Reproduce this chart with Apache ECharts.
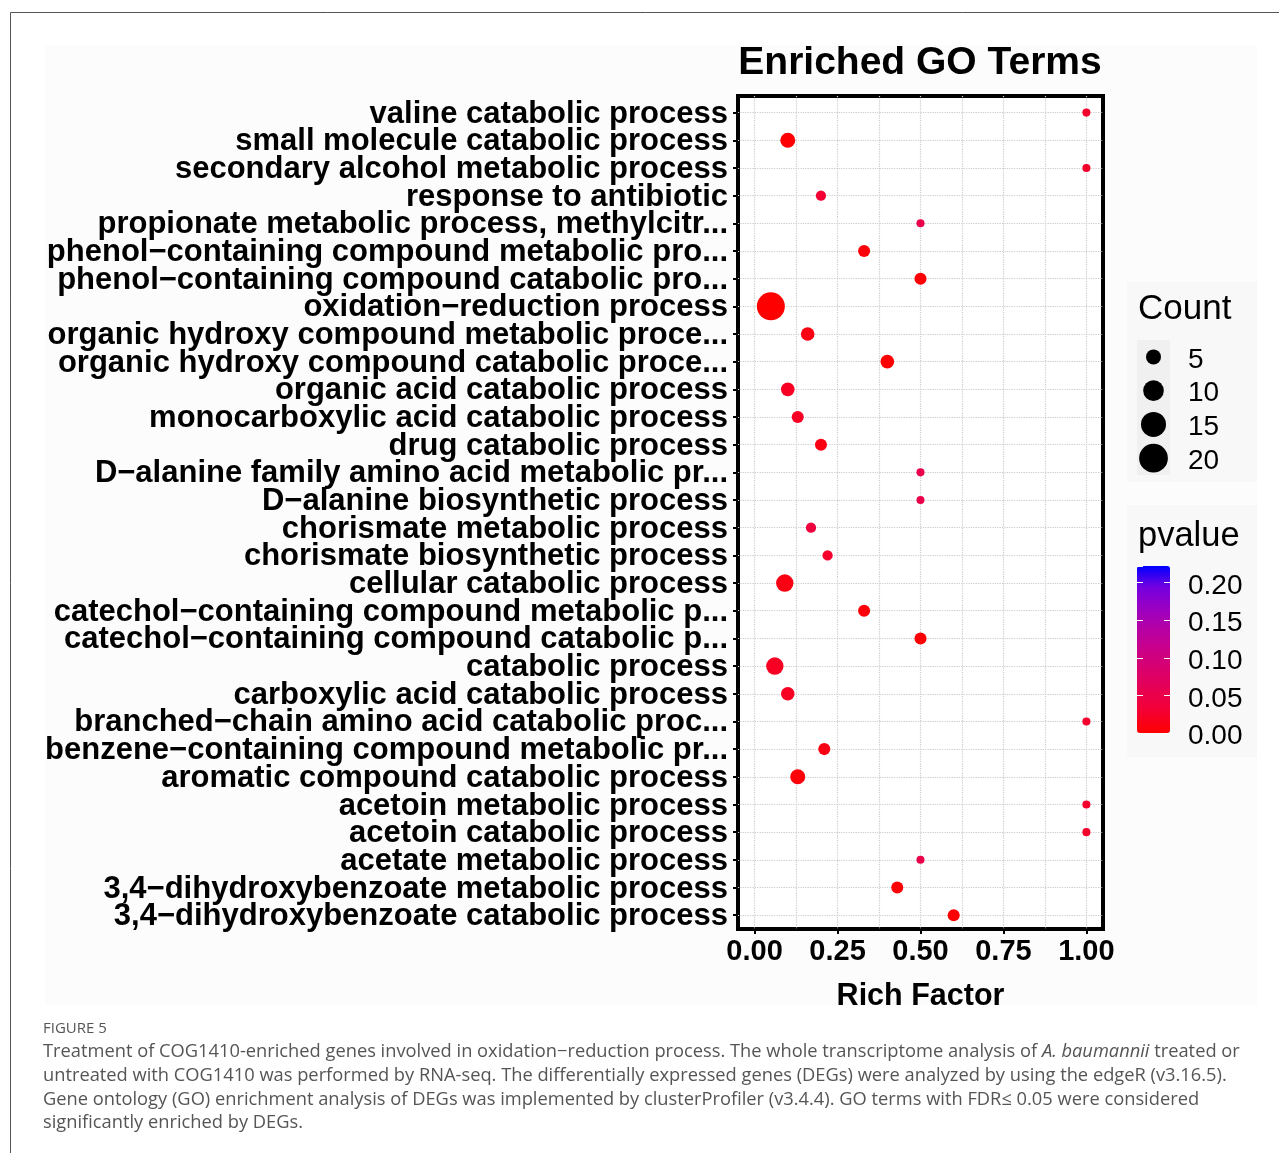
<!DOCTYPE html>
<html>
<head>
<meta charset="utf-8">
<script src="https://cdn.jsdelivr.net/npm/echarts@6/dist/echarts.min.js"></script>
<style>
html,body{margin:0;padding:0;background:#fff;}
#chart{width:1279px;height:1153px;}
</style>
</head>
<body>
<div id="chart"></div>
<script>
// ---------- data ----------
const terms = [
  "valine catabolic process",
  "small molecule catabolic process",
  "secondary alcohol metabolic process",
  "response to antibiotic",
  "propionate metabolic process, methylcitr...",
  "phenol\u2212containing compound metabolic pro...",
  "phenol\u2212containing compound catabolic pro...",
  "oxidation\u2212reduction process",
  "organic hydroxy compound metabolic proce...",
  "organic hydroxy compound catabolic proce...",
  "organic acid catabolic process",
  "monocarboxylic acid catabolic process",
  "drug catabolic process",
  "D\u2212alanine family amino acid metabolic pr...",
  "D\u2212alanine biosynthetic process",
  "chorismate metabolic process",
  "chorismate biosynthetic process",
  "cellular catabolic process",
  "catechol\u2212containing compound metabolic p...",
  "catechol\u2212containing compound catabolic p...",
  "catabolic process",
  "carboxylic acid catabolic process",
  "branched\u2212chain amino acid catabolic proc...",
  "benzene\u2212containing compound metabolic pr...",
  "aromatic compound catabolic process",
  "acetoin metabolic process",
  "acetoin catabolic process",
  "acetate metabolic process",
  "3,4\u2212dihydroxybenzoate metabolic process",
  "3,4\u2212dihydroxybenzoate catabolic process"
];
const richFactor = [1.0,0.10,1.0,0.20,0.50,0.33,0.50,0.049,0.16,0.40,0.10,0.13,0.20,0.50,0.50,0.17,0.22,0.091,0.33,0.50,0.061,0.10,1.0,0.21,0.13,1.0,1.0,0.50,0.43,0.60];
const counts     = [1,5,1,2,1,3,3,19,4,4,4,3,3,1,1,2,2,7,3,3,7,4,1,3,5,1,1,1,3,3];
const pvalues    = [0.025,0.002,0.025,0.03,0.05,0.005,0.002,0.0001,0.01,0.001,0.02,0.02,0.01,0.05,0.05,0.04,0.025,0.01,0.005,0.002,0.02,0.02,0.025,0.01,0.005,0.025,0.025,0.05,0.003,0.001];
const xTicks     = [0,0.25,0.5,0.75,1.0];
const xGridLines = [0,0.125,0.25,0.375,0.5,0.625,0.75,0.875,1.0];
const sizeBreaks = [5,10,15,20];
const pvalueTicks = [0,0.05,0.10,0.15,0.20];
const pvalueMax = 0.222;
const gradientColors = ['#FF0000','#F40031','#E80050','#DA006C','#CA0088','#B500A5','#9A00C3','#7300E0','#0000FF'];

// ---------- helpers ----------
const FONT = '"Liberation Sans", Arial, sans-serif';
const CAPFONT = '"Open Sans", "Noto Sans", sans-serif';
const sizeOf = c => Math.sqrt(25 + 40 * c);
const rowIdx = terms.map((t, i) => i);
const evenRows = rowIdx.filter(i => i % 2 === 0);
const oddRows = rowIdx.filter(i => i % 2 === 1);
const pointData = terms.map((t, i) => [richFactor[i], i, counts[i], pvalues[i]]);
const legendData = sizeBreaks.map(s => [0.5, String(s), s]);

const chart = echarts.init(document.getElementById('chart'), null, {renderer: 'canvas'});

const gridLineStyle = {type: 'dotted', color: '#cccccc', width: 1.2};
const captionStyle = {fontSize: 18.3, fontFamily: CAPFONT, fill: '#555555'};

function rowAxis(rows) {
  return {
    gridIndex: 0, type: 'value', min: -0.6, max: 29.5, inverse: true, position: 'left', offset: 0,
    axisLine: {show: false, onZero: false},
    axisTick: {show: true, customValues: rows, length: 5, lineStyle: {color: '#000', width: 2}},
    axisLabel: {customValues: rows, formatter: v => terms[Math.round(v)] || '', fontSize: 31, fontWeight: 'bold', fontFamily: FONT, color: '#000', margin: 10, verticalAlign: 'top', lineHeight: 3, hideOverlap: false},
    splitLine: {show: true, lineStyle: gridLineStyle}
  };
}

const option = {
  animation: false,
  backgroundColor: '#ffffff',
  graphic: [
    {type: 'rect', z: -5, shape: {x: 10.5, y: 12.5, width: 1400, height: 1300}, style: {fill: '#ffffff', stroke: '#555555', lineWidth: 1}},
    {type: 'rect', z: -4, shape: {x: 45, y: 45, width: 1212, height: 960}, style: {fill: '#FCFCFC'}},
    {type: 'rect', z: -3, shape: {x: 1127, y: 282, width: 130, height: 200}, style: {fill: '#F8F8F8'}},
    {type: 'rect', z: -3, shape: {x: 1127, y: 505, width: 130, height: 252}, style: {fill: '#F8F8F8'}},
    {type: 'text', x: 920, y: 63, style: {text: 'Enriched GO Terms', fontSize: 39, fontWeight: 'bold', fontFamily: FONT, fill: '#000', align: 'center', verticalAlign: 'middle', textAlign: 'center', textVerticalAlign: 'middle'}},
    {type: 'text', x: 1138, y: 309, style: {text: 'Count', fontSize: 35, fontFamily: FONT, fill: '#000', align: 'left', verticalAlign: 'middle', textAlign: 'left', textVerticalAlign: 'middle'}},
    {type: 'text', x: 1138, y: 536, style: {text: 'pvalue', fontSize: 34.5, fontFamily: FONT, fill: '#000', align: 'left', verticalAlign: 'middle', textAlign: 'left', textVerticalAlign: 'middle'}},
    {type: 'text', x: 43, y: 1029, style: {text: 'FIGURE 5', fontSize: 15, fontFamily: CAPFONT, fill: '#555555', verticalAlign: 'middle', textVerticalAlign: 'middle'}},
    {type: 'text', x: 43, y: 1052, style: Object.assign({}, captionStyle, {
      text: 'Treatment of COG1410-enriched genes involved in oxidation\u2212reduction process. The whole transcriptome analysis of {i|A. baumannii} treated or',
      verticalAlign: 'middle', textVerticalAlign: 'middle',
      rich: {i: {fontStyle: 'italic', fontSize: 18.3, fontFamily: CAPFONT, fill: '#555555'}}})},
    {type: 'text', x: 43, y: 1076, style: Object.assign({}, captionStyle, {text: 'untreated with COG1410 was performed by RNA-seq. The differentially expressed genes (DEGs) were analyzed by using the edgeR (v3.16.5).', verticalAlign: 'middle', textVerticalAlign: 'middle'})},
    {type: 'text', x: 43, y: 1100, style: Object.assign({}, captionStyle, {text: 'Gene ontology (GO) enrichment analysis of DEGs was implemented by clusterProfiler (v3.4.4). GO terms with FDR\u2264 0.05 were considered', verticalAlign: 'middle', textVerticalAlign: 'middle'})},
    {type: 'text', x: 43, y: 1123, style: Object.assign({}, captionStyle, {text: 'significantly enriched by DEGs.', verticalAlign: 'middle', textVerticalAlign: 'middle'})}
  ],
  grid: [
    {left: 738, top: 96, width: 365, height: 833, show: true, backgroundColor: '#ffffff', borderColor: '#000000', borderWidth: 4, containLabel: false},
    {left: 1137, top: 340, width: 33, height: 135, show: true, backgroundColor: '#F0F0F0', borderWidth: 0},
    {left: 1137, top: 566, width: 33, height: 167, show: false}
  ],
  visualMap: [{
    type: 'continuous',
    seriesIndex: 0,
    dimension: 3,
    min: 0,
    max: pvalueMax,
    show: true,
    calculable: false,
    hoverLink: false,
    orient: 'vertical',
    left: 1137,
    top: 566,
    itemWidth: 33,
    itemHeight: 167,
    padding: 0,
    text: null,
    inRange: {color: gradientColors}
  }],
  xAxis: [
    {
      gridIndex: 0, type: 'value', min: -0.05, max: 1.05, position: 'bottom',
      axisLine: {show: false, onZero: false},
      axisTick: {show: true, customValues: xTicks, length: 5, lineStyle: {color: '#000', width: 2}},
      axisLabel: {customValues: xTicks, formatter: v => v.toFixed(2), fontSize: 29, fontWeight: 'bold', fontFamily: FONT, color: '#000', margin: 8, showMinLabel: true, showMaxLabel: true},
      splitLine: {show: false},
      name: 'Rich Factor', nameLocation: 'middle', nameGap: 52,
      nameTextStyle: {fontSize: 30.5, fontWeight: 'bold', fontFamily: FONT, color: '#000'}
    },
    {
      gridIndex: 0, type: 'value', position: 'top', min: -0.05, max: 1.05,
      axisLine: {show: false, onZero: false},
      axisTick: {show: false, customValues: xGridLines},
      axisLabel: {show: false, customValues: xGridLines},
      splitLine: {show: true, lineStyle: gridLineStyle}
    },
    {gridIndex: 1, type: 'value', min: 0, max: 1, show: false, axisLine: {onZero: false}},
    {gridIndex: 2, type: 'value', min: 0, max: 1, show: false, axisLine: {onZero: false}}
  ],
  yAxis: [
    rowAxis(evenRows),
    rowAxis(oddRows),
    {
      gridIndex: 1, type: 'category', data: sizeBreaks.map(String), inverse: true, position: 'right',
      axisLine: {show: false, onZero: false}, axisTick: {show: false}, splitLine: {show: false},
      axisLabel: {interval: 0, fontSize: 28, fontFamily: FONT, color: '#000', margin: 18, verticalAlign: 'top', lineHeight: 6, showMinLabel: true, showMaxLabel: true}
    },
    {
      gridIndex: 2, type: 'value', min: 0, max: pvalueMax, interval: 0.05, position: 'right', z: 10,
      axisLine: {show: false, onZero: false}, splitLine: {show: false},
      axisTick: {show: true, inside: true, length: 6, lineStyle: {color: '#ffffff', width: 1}},
      axisLabel: {fontSize: 28, fontFamily: FONT, color: '#000', margin: 18, verticalAlign: 'top', lineHeight: 7, showMinLabel: true, showMaxLabel: false,
        formatter: v => (Math.abs(v / 0.05 - Math.round(v / 0.05)) < 1e-6 ? v.toFixed(2) : '')}
    },
    {
      gridIndex: 2, type: 'value', min: 0, max: pvalueMax, interval: 0.05, position: 'left', z: 10,
      axisLine: {show: false, onZero: false}, splitLine: {show: false}, axisLabel: {show: false},
      axisTick: {show: true, inside: true, length: 6, lineStyle: {color: '#ffffff', width: 1}}
    }
  ],
  series: [
    {
      type: 'scatter', xAxisIndex: 0, yAxisIndex: 0,
      data: pointData,
      symbol: 'circle',
      symbolSize: v => sizeOf(v[2]),
      itemStyle: {opacity: 1}
    },
    {
      type: 'scatter', xAxisIndex: 2, yAxisIndex: 2,
      data: legendData,
      symbol: 'circle',
      symbolSize: v => sizeOf(v[2]),
      itemStyle: {color: '#000000', opacity: 1}
    }
  ]
};
chart.setOption(option);
</script>
</body>
</html>
